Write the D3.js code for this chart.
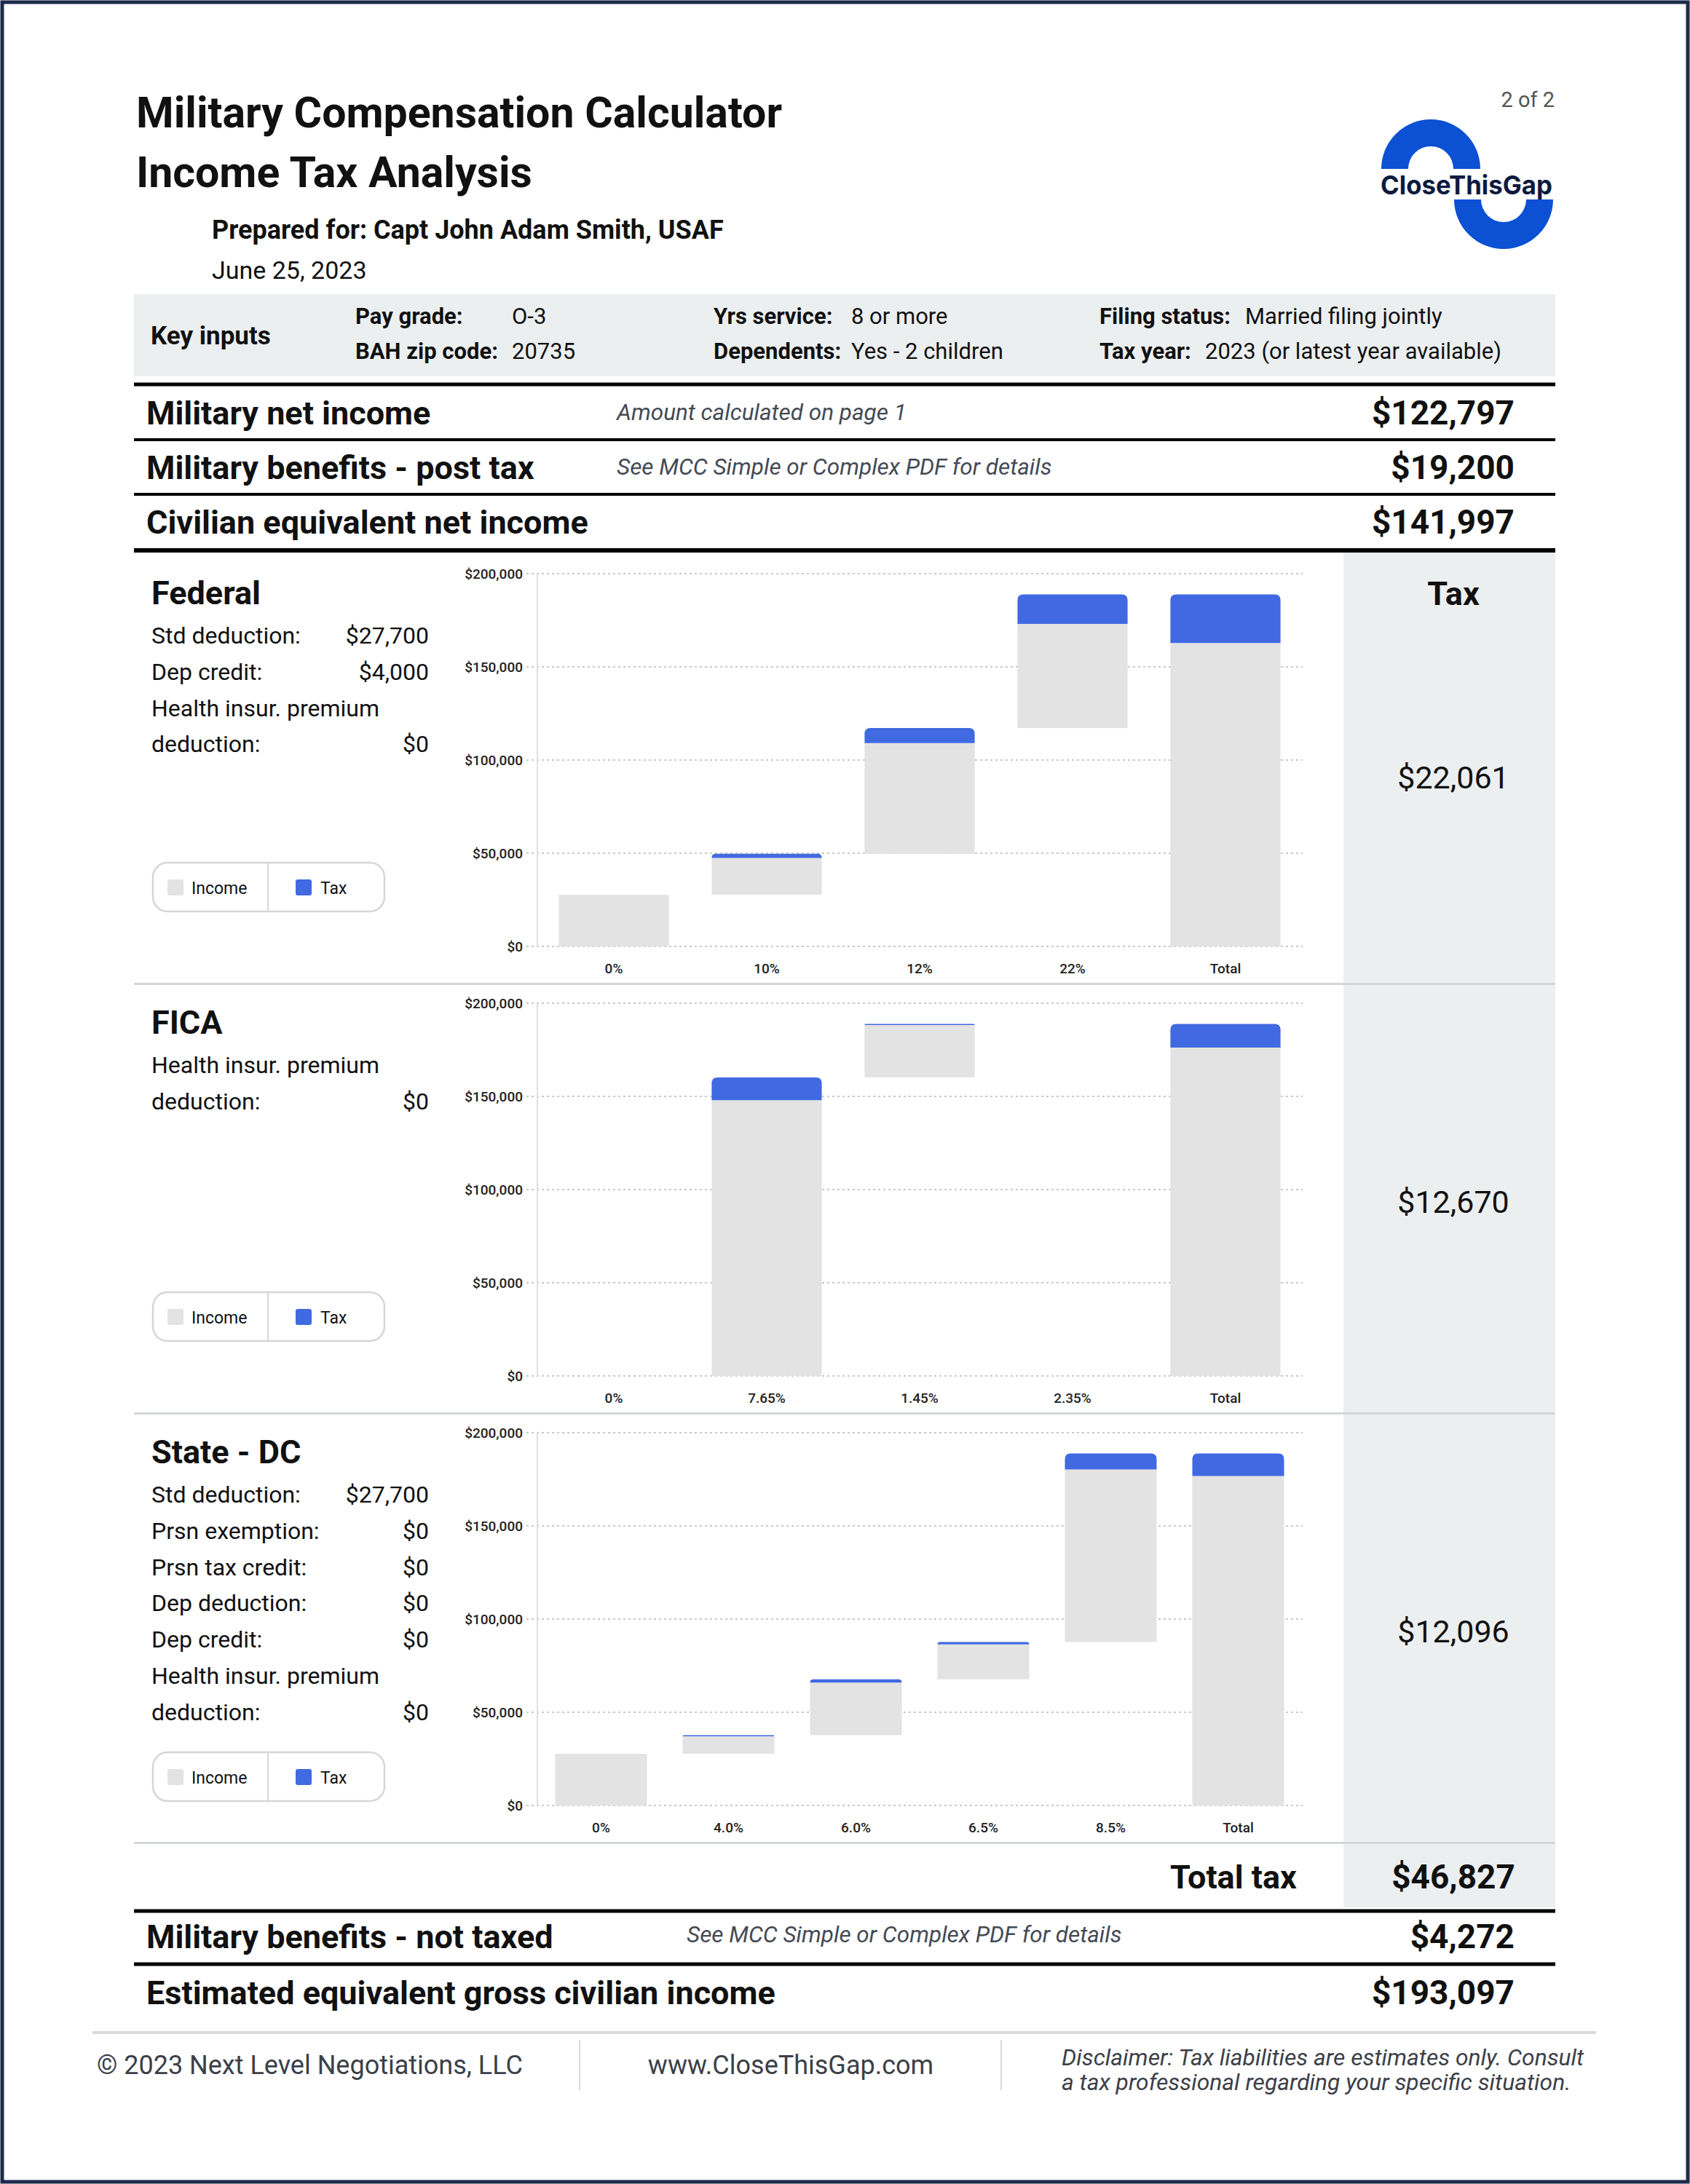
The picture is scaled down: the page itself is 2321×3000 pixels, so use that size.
<!DOCTYPE html>
<html>
<head>
<meta charset="utf-8">
<title>Military Compensation Calculator - Income Tax Analysis</title>
<script src="https://d3js.org/d3.v7.min.js"></script>
<style>
  body { margin: 0; background: #fff; }
  text { font-family: Roboto, "Noto Sans", sans-serif; }
</style>
</head>
<body>
<div id="page"></div>
<script>
// ---- data ----
const fedLabels = ['0%', '10%', '12%', '22%', 'Total'];
const fedBase   = [0, 27700, 49700, 117150, 0];
const fedIncome = [27700, 19800, 59356, 55907, 162764];
const fedTax    = [0, 2200, 8094, 15768, 26061];

const ficaLabels = ['0%', '7.65%', '1.45%', '2.35%', 'Total'];
const ficaBase   = [0, 0, 160200, 188825, 0];
const ficaIncome = [0, 147945, 28210, 0, 176155];
const ficaTax    = [0, 12255, 415, 0, 12670];

const dcLabels = ['0%', '4.0%', '6.0%', '6.5%', '8.5%', 'Total'];
const dcBase   = [0, 27700, 37700, 67700, 87700, 0];
const dcIncome = [27700, 9600, 28200, 18700, 92529, 176729];
const dcTax    = [0, 400, 1800, 1300, 8596, 12096];

const yTicks = [0, 50000, 100000, 150000, 200000];

const sectionTitles = ['Federal', 'FICA', 'State - DC'];
const sectionTaxes  = ['$22,061', '$12,670', '$12,096'];
const fedNotes  = [['Std deduction:', '$27,700'], ['Dep credit:', '$4,000'], ['Health insur. premium', ''], ['deduction:', '$0']];
const ficaNotes = [['Health insur. premium', ''], ['deduction:', '$0']];
const dcNotes   = [['Std deduction:', '$27,700'], ['Prsn exemption:', '$0'], ['Prsn tax credit:', '$0'],
                   ['Dep deduction:', '$0'], ['Dep credit:', '$0'], ['Health insur. premium', ''], ['deduction:', '$0']];

const topRows = [
  ['Military net income', 'Amount calculated on page 1', '$122,797'],
  ['Military benefits - post tax', 'See MCC Simple or Complex PDF for details', '$19,200'],
  ['Civilian equivalent net income', '', '$141,997']
];
const bottomRows = [
  ['Military benefits - not taxed', 'See MCC Simple or Complex PDF for details', '$4,272'],
  ['Estimated equivalent gross civilian income', '', '$193,097']
];

// ---- page ----
const W = 2321, H = 3000;
const svg = d3.select('#page').append('svg').attr('width', W).attr('height', H);

const GRAY = '#e3e3e3', BLUE = '#4169e1', INK = '#111';

function txt(x, y, s, size, opts = {}) {
  return svg.append('text')
    .attr('x', x).attr('y', y)
    .attr('font-size', size)
    .attr('font-weight', opts.bold ? 700 : (opts.weight || 400))
    .attr('font-style', opts.italic ? 'italic' : 'normal')
    .attr('text-anchor', opts.anchor || 'start')
    .attr('fill', opts.color || INK)
    .text(s);
}
function rule(y, w, color) {
  svg.append('rect').attr('x', 184).attr('y', y - w / 2).attr('width', 1952).attr('height', w).attr('fill', color || '#000');
}

svg.append('rect').attr('x', 0).attr('y', 0).attr('width', W).attr('height', H).attr('fill', '#fff');

// header
txt(187, 175, 'Military Compensation Calculator', 59, {bold: true});
txt(187, 257, 'Income Tax Analysis', 59, {bold: true});
txt(291, 328, 'Prepared for: Capt John Adam Smith, USAF', 36, {bold: true});
txt(291, 383, 'June 25, 2023', 34);
txt(2135, 147, '2 of 2', 29, {color: '#555', anchor: 'end'});

// logo
const arcTop = d3.arc().innerRadius(31).outerRadius(68).startAngle(-Math.PI / 2).endAngle(Math.PI / 2);
const arcBot = d3.arc().innerRadius(31).outerRadius(68).startAngle(Math.PI / 2).endAngle(Math.PI * 1.5);
svg.append('path').attr('d', arcTop()).attr('transform', 'translate(1965,232)').attr('fill', '#0c51d3');
svg.append('path').attr('d', arcBot()).attr('transform', 'translate(2065,274)').attr('fill', '#0c51d3');
svg.append('text').attr('x', 1896).attr('y', 267).attr('font-size', 36).attr('font-weight', 700)
  .style('font-family', 'Inter, Roboto, sans-serif')
  .attr('textLength', 236).attr('lengthAdjust', 'spacingAndGlyphs')
  .attr('fill', '#0d1b3e').text('CloseThisGap');

// key inputs band
svg.append('rect').attr('x', 184).attr('y', 404).attr('width', 1952).attr('height', 113).attr('fill', '#eceff0');
txt(207, 473, 'Key inputs', 35, {bold: true});
const keyL = [[488, 'Pay grade:', 703, 'O-3'], [980, 'Yrs service:', 1169, '8 or more'], [1510, 'Filing status:', 1710, 'Married filing jointly']];
const keyL2 = [[488, 'BAH zip code:', 703, '20735'], [980, 'Dependents:', 1169, 'Yes - 2 children'], [1510, 'Tax year:', 1655, '2023 (or latest year available)']];
keyL.forEach(k => { txt(k[0], 445, k[1], 31, {bold: true}); txt(k[2], 445, k[3], 31); });
keyL2.forEach(k => { txt(k[0], 493, k[1], 31, {bold: true}); txt(k[2], 493, k[3], 31); });

// summary rows
rule(528, 5);
const topBase = [583, 658, 733];
topRows.forEach((r, i) => {
  txt(201, topBase[i], r[0], 45, {bold: true});
  if (r[1]) txt(847, topBase[i] - 6, r[1], 31.5, {italic: true, color: '#444a55'});
  txt(2080, topBase[i], r[2], 46, {bold: true, anchor: 'end'});
});
rule(604, 4); rule(679, 4);

// tax column
svg.append('rect').attr('x', 1845).attr('y', 759).attr('width', 291).attr('height', 1861).attr('fill', '#eceff0');
rule(756, 6);
txt(1996, 831, 'Tax', 45, {bold: true, anchor: 'middle'});

// ---- charts ----
const fmt = d => '$' + d3.format(',')(d);
const y = d3.scaleLinear().domain([0, 200000]);
const charts = [
  {labels: fedLabels, base: fedBase, inc: fedIncome, tax: fedTax, notes: fedNotes, legendY: 1185},
  {labels: ficaLabels, base: ficaBase, inc: ficaIncome, tax: ficaTax, notes: ficaNotes, legendY: 1775},
  {labels: dcLabels, base: dcBase, inc: dcIncome, tax: dcTax, notes: dcNotes, legendY: 2407}
];

function topRound(x, yTop, w, h, r) {
  r = Math.min(r, h, w / 2);
  return `M${x},${yTop + h}V${yTop + r}Q${x},${yTop} ${x + r},${yTop}H${x + w - r}Q${x + w},${yTop} ${x + w},${yTop + r}V${yTop + h}Z`;
}

charts.forEach((c, i) => {
  const off = 590 * i;
  const y0 = 1300 + off;
  const yy = y.copy().range([y0, y0 - 512]);
  const x = d3.scaleBand().domain(c.labels).range([738, 1788]).paddingInner(0.28).paddingOuter(0.14);
  const g = svg.append('g');

  // grid
  g.selectAll('line.grid').data(yTicks).enter().append('line')
    .attr('x1', 723).attr('x2', 1789)
    .attr('y1', d => yy(d)).attr('y2', d => yy(d))
    .attr('stroke', '#c9c9c9').attr('stroke-width', 2).attr('stroke-dasharray', '3,4');
  g.append('line').attr('x1', 738).attr('x2', 738).attr('y1', yy(200000)).attr('y2', y0)
    .attr('stroke', '#e0e0e0').attr('stroke-width', 2);

  const ya = g.append('g').attr('transform', 'translate(738,0)')
    .call(d3.axisLeft(yy).tickValues(yTicks).tickFormat(fmt).tickSize(0).tickPadding(20));
  ya.select('.domain').remove();
  ya.selectAll('text').attr('font-size', 19).attr('font-weight', 500).attr('fill', '#222')
    .style('font-family', 'Roboto, sans-serif');

  const xa = g.append('g').attr('transform', `translate(0,${y0})`)
    .call(d3.axisBottom(x).tickSize(0).tickPadding(24));
  xa.select('.domain').remove();
  xa.selectAll('text').attr('font-size', 19).attr('font-weight', 500).attr('fill', '#222')
    .style('font-family', 'Roboto, sans-serif');

  const idx = d3.range(c.labels.length);
  // income (gray) segment
  g.selectAll('rect.inc').data(idx.filter(k => c.inc[k] > 0)).enter().append('rect')
    .attr('x', k => x(c.labels[k])).attr('width', x.bandwidth())
    .attr('y', k => yy(c.base[k] + c.inc[k]))
    .attr('height', k => yy(c.base[k]) - yy(c.base[k] + c.inc[k]))
    .attr('fill', GRAY);
  // tax (blue) segment, rounded top
  g.selectAll('path.tax').data(idx.filter(k => c.tax[k] > 0)).enter().append('path')
    .attr('d', k => {
      const top = yy(c.base[k] + c.inc[k] + c.tax[k]);
      const h = yy(c.base[k] + c.inc[k]) - top;
      return topRound(x(c.labels[k]), top, x.bandwidth(), Math.max(h, 1.5), 8);
    })
    .attr('fill', BLUE);

  // left panel
  txt(208, 830 + off, sectionTitles[i], 45, {bold: true});
  c.notes.forEach((n, j) => {
    const by = 884 + off + j * 49.8;
    txt(208, by, n[0], 32);
    if (n[1]) txt(589, by, n[1], 32, {anchor: 'end'});
  });

  // legend
  const ly = c.legendY;
  svg.append('rect').attr('x', 210).attr('y', ly).attr('width', 318).attr('height', 67).attr('rx', 20)
    .attr('fill', '#fff').attr('stroke', '#d6d6d6').attr('stroke-width', 2.5);
  svg.append('line').attr('x1', 368).attr('x2', 368).attr('y1', ly).attr('y2', ly + 67)
    .attr('stroke', '#d6d6d6').attr('stroke-width', 2);
  svg.append('rect').attr('x', 230).attr('y', ly + 23).attr('width', 22).attr('height', 22).attr('rx', 3).attr('fill', GRAY);
  txt(263, ly + 43, 'Income', 23);
  svg.append('rect').attr('x', 406).attr('y', ly + 23).attr('width', 22).attr('height', 22).attr('rx', 3).attr('fill', BLUE);
  txt(440, ly + 43, 'Tax', 23);

  // tax amount
  txt(1996, [1083, 1666, 2256][i], sectionTaxes[i], 43, {anchor: 'middle'});

  // separator
  svg.append('rect').attr('x', 184).attr('y', 1350 + off).attr('width', 1952).attr('height', 3).attr('fill', '#d3d6d9');
});

// totals
txt(1781, 2594, 'Total tax', 45, {bold: true, anchor: 'end'});
txt(1996, 2594, '$46,827', 46, {bold: true, anchor: 'middle'});
rule(2625, 5);
const botBase = [2676, 2753];
bottomRows.forEach((r, i) => {
  txt(201, botBase[i], r[0], 45, {bold: true});
  if (r[1]) txt(943, botBase[i] - 8, r[1], 31.5, {italic: true, color: '#444a55'});
  txt(2080, botBase[i], r[2], 46, {bold: true, anchor: 'end'});
});
rule(2698, 5);

// footer
svg.append('rect').attr('x', 127).attr('y', 2790).attr('width', 2065).attr('height', 4).attr('fill', '#dadada');
[796, 1375].forEach(xv => svg.append('line').attr('x1', xv).attr('x2', xv).attr('y1', 2802).attr('y2', 2871)
  .attr('stroke', '#d8d8d8').attr('stroke-width', 2));
txt(133, 2849, '\u00A9 2023 Next Level Negotiations, LLC', 36, {color: '#3c4048'});
txt(1086, 2849, 'www.CloseThisGap.com', 36, {color: '#3c4048', anchor: 'middle'});
txt(1458, 2837, 'Disclaimer: Tax liabilities are estimates only. Consult', 31.8, {italic: true, color: '#3c4048'});
txt(1458, 2871, 'a tax professional regarding your specific situation.', 31.8, {italic: true, color: '#3c4048'});

// page border
svg.append('rect').attr('x', 3).attr('y', 3).attr('width', W - 6).attr('height', H - 6)
  .attr('fill', 'none').attr('stroke', '#1c2b4a').attr('stroke-width', 5);
</script>
</body>
</html>
